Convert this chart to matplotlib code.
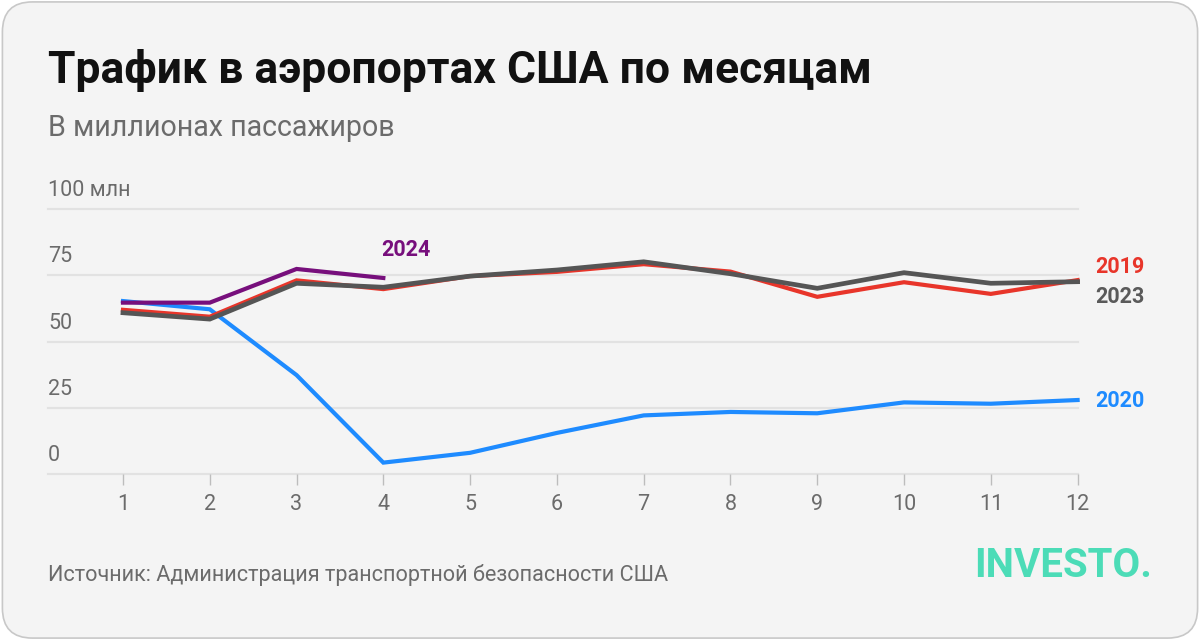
import matplotlib.pyplot as plt
from matplotlib.patches import FancyBboxPatch

# Data (million passengers per month)
months = list(range(1, 13))
y2019 = [62.0, 59.4, 73.1, 69.8, 74.7, 76.3, 79.2, 76.4, 66.9, 72.4, 68.0, 73.2]
y2020 = [65.3, 62.2, 37.4, 4.4, 8.1, 15.6, 22.2, 23.5, 23.0, 27.1, 26.6, 28.0]
y2023 = [60.9, 58.5, 72.0, 70.5, 74.7, 77.0, 80.1, 75.6, 70.1, 76.0, 72.0, 72.6]
months_2024 = [1, 2, 3, 4]
y2024 = [64.7, 64.7, 77.4, 74.0]
y_ticks = [0, 25, 50, 75, 100]
y_tick_labels = ["0", "25", "50", "75", "100 млн"]

title = "Трафик в аэропортах США по месяцам"
subtitle = "В миллионах пассажиров"
source = "Источник: Администрация транспортной безопасности США"

bg = '#f4f4f4'
red = '#e8352a'
blue = '#1e8bff'
gray = '#555555'
purple = '#770f7c'
text_gray = '#6b6b6b'

plt.rcParams['font.family'] = ['Roboto', 'DejaVu Sans']

fig = plt.figure(figsize=(12, 6.4), dpi=100)
fig.patch.set_facecolor('white')

# rounded card behind everything
card = FancyBboxPatch((0.002, 0.003), 0.996, 0.994,
                      boxstyle="round,pad=0,rounding_size=0.025",
                      transform=fig.transFigure, facecolor=bg,
                      edgecolor='#c8c8c8', linewidth=1.2, mutation_aspect=1.875,
                      zorder=-10)
fig.patches.append(card)

ax = fig.add_axes([0.04, 1 - 474.3 / 640, 0.898 - 0.04, (474.3 - 209) / 640])
ax.patch.set_alpha(0)
ax.set_zorder(1)

ax.set_xlim(0.136, 12)
ax.set_ylim(0, 100)

# grid lines
for v in y_ticks:
    ax.axhline(v, color='#e2e2e2', linewidth=1.6, zorder=0, clip_on=False)

ax.plot(months, y2020, color=blue, linewidth=3.0, zorder=2, clip_on=False,
        solid_joinstyle='miter')
ax.plot(months, y2019, color=red, linewidth=3.0, zorder=3, clip_on=False,
        solid_joinstyle='miter')
ax.plot(months, y2023, color=gray, linewidth=3.4, zorder=4, clip_on=False,
        solid_joinstyle='miter')
ax.plot(months_2024, y2024, color=purple, linewidth=3.0, zorder=5, clip_on=False,
        solid_joinstyle='miter')

# series labels
lab_kw = dict(fontsize=15.5, fontweight='bold', va='center', ha='left')
ax.text(12.2, 78.0, "2019", color=red, **lab_kw)
ax.text(12.2, 67.0, "2023", color='#5a5a5a', **lab_kw)
ax.text(12.2, 27.5, "2020", color=blue, **lab_kw)
ax.text(3.98, 84.5, "2024", color=purple, **lab_kw)

# y labels above grid lines
for v, s in zip(y_ticks, y_tick_labels):
    ax.text(0.136, v + 3.0, s, color=text_gray, fontsize=15.5,
            ha='left', va='bottom')

ax.set_yticks([])
ax.set_xticks(months)
ax.set_xticklabels([str(m) for m in months])
ax.tick_params(axis='x', length=8, width=1, color='#bdbdbd',
               labelcolor=text_gray, labelsize=15.5, pad=6)
for sp in ax.spines.values():
    sp.set_visible(False)

fig.text(48 / 1200, 1 - 70 / 640, title, fontsize=32, fontweight='bold',
         color='#111111', ha='left', va='center')
fig.text(48 / 1200, 1 - 128 / 640, subtitle, fontsize=20.6, color=text_gray,
         ha='left', va='center')
fig.text(48 / 1200, 1 - 575 / 640, source, fontsize=15.6, color=text_gray,
         ha='left', va='center')
fig.text(1152 / 1200, 1 - 566 / 640, "INVESTO.", fontsize=29, fontweight='bold',
         color='#4cdcb7', ha='right', va='center')

fig.savefig('out.png', dpi=100, facecolor='white')
